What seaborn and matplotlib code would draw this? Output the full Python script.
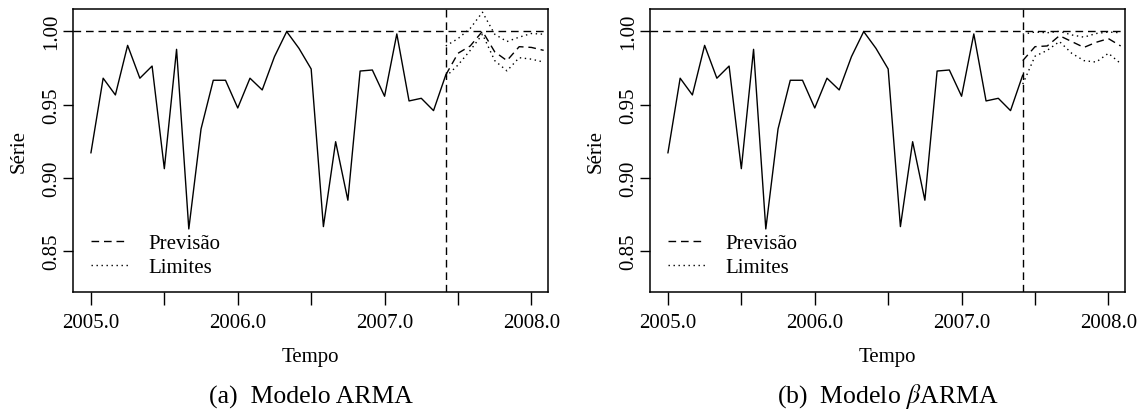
import numpy as np
import pandas as pd
import seaborn as sns
import matplotlib.pyplot as plt
from matplotlib.lines import Line2D

# serie observada (mensal, jan/2005 a jun/2007)
serie = [0.917, 0.968, 0.9566, 0.9904, 0.968, 0.9763, 0.9063, 0.9877, 0.8652, 0.9334,
         0.9666, 0.9666, 0.9477, 0.968, 0.960, 0.9827, 0.9998, 0.9884, 0.9743, 0.8668,
         0.9247, 0.8848, 0.9729, 0.9736, 0.9557, 0.9982, 0.9525, 0.9543, 0.9459, 0.9702]
inicio = 2005.0
corte = 2007 + 5 / 12

# previsoes e limites (a partir do corte)
arma_prev = [0.9702, 0.985, 0.990, 1.000, 0.986, 0.980, 0.9895, 0.989, 0.987]
arma_sup = [0.990, 0.995, 1.002, 1.013, 0.998, 0.993, 0.996, 0.9985, 0.998]
arma_inf = [0.969, 0.977, 0.987, 0.998, 0.980, 0.973, 0.982, 0.981, 0.979]

barma_prev = [0.980, 0.9895, 0.990, 0.997, 0.993, 0.989, 0.9925, 0.995, 0.990]
barma_sup = [0.998, 0.9995, 0.999, 1.000, 0.9975, 0.996, 0.9985, 0.9995, 0.999]
barma_inf = [0.964, 0.983, 0.987, 0.993, 0.985, 0.980, 0.979, 0.985, 0.978]

legendas = ["Previsão", "Limites"]
titulos = ["(a)  Modelo ARMA", r"(b)  Modelo $\beta$ARMA"]
xticks = [2005.0, 2005.5, 2006.0, 2006.5, 2007.0, 2007.5, 2008.0]
xlabels = ["2005.0", "", "2006.0", "", "2007.0", "", "2008.0"]
yticks = [0.85, 0.90, 0.95, 1.00]

sns.set_style("ticks")
plt.rcParams['font.family'] = ['Liberation Serif', 'DejaVu Serif']
plt.rcParams['mathtext.fontset'] = 'stix'
for k in ["text.color", "axes.labelcolor", "xtick.color", "ytick.color"]:
    plt.rcParams[k] = "black"

tempo = inicio + np.arange(len(serie)) / 12
tempo_prev = corte + np.arange(len(arma_prev)) / 12
df_obs = pd.DataFrame({"Tempo": tempo, "Série": serie})

dashed = (0, (5.5, 3.5))
dotted = (0, (1, 2.6))
lw = 1.0

fig = plt.figure(figsize=(11.43, 4.10), dpi=100)
lefts = [73 / 1143, 650 / 1143]
modelos = [(arma_prev, arma_sup, arma_inf), (barma_prev, barma_sup, barma_inf)]

for i, (prev, sup, inf) in enumerate(modelos):
    ax = fig.add_axes([lefts[i], 1 - 293.3 / 410, 475.3 / 1143, 283.3 / 410])
    sns.lineplot(data=df_obs, x="Tempo", y="Série", ax=ax, color="black", lw=lw,
                 estimator=None)
    df_prev = pd.DataFrame({"Tempo": tempo_prev, "prev": prev, "sup": sup, "inf": inf})
    sns.lineplot(data=df_prev, x="Tempo", y="prev", ax=ax, color="black", lw=lw,
                 linestyle=dashed, estimator=None)
    sns.lineplot(data=df_prev, x="Tempo", y="sup", ax=ax, color="black", lw=lw,
                 linestyle=dotted, estimator=None)
    sns.lineplot(data=df_prev, x="Tempo", y="inf", ax=ax, color="black", lw=lw,
                 linestyle=dotted, estimator=None)
    ax.axhline(1.0, color="black", lw=lw, linestyle=dashed)
    ax.axvline(corte, color="black", lw=lw, linestyle=dashed)

    ax.set_xlim(2004.878, 2008.115)
    ax.set_ylim(0.822, 1.0152)
    ax.set_xticks(xticks)
    ax.set_xticklabels(xlabels)
    ax.set_yticks(yticks)
    ax.set_yticklabels(["%.2f" % v for v in yticks], rotation=90, va="center")
    ax.tick_params(axis="both", labelsize=15, width=1, direction="out", colors="black")
    ax.tick_params(axis="x", length=9, pad=6)
    ax.tick_params(axis="y", length=7.5, pad=1)
    for s in ax.spines.values():
        s.set_visible(True)
        s.set_linewidth(1.1)
        s.set_color("black")
    ax.set_xlabel("Tempo", fontsize=15, labelpad=11)
    ax.set_ylabel("Série", fontsize=15, labelpad=10)

    handles = [Line2D([], [], color="black", lw=lw, linestyle=dashed),
               Line2D([], [], color="black", lw=lw, linestyle=dotted)]
    ax.legend(handles, legendas, loc="upper left", bbox_to_anchor=(0.037, 0.207),
              frameon=False, fontsize=15, handlelength=1.8, handletextpad=0.95,
              labelspacing=0.22, borderpad=0, borderaxespad=0)

    cx = (lefts[i] + 475.3 / 1143 / 2)
    fig.text(cx, 1 - 397 / 410, titulos[i], ha="center", va="center", fontsize=18.5)

fig.savefig("out.png", dpi=100)
